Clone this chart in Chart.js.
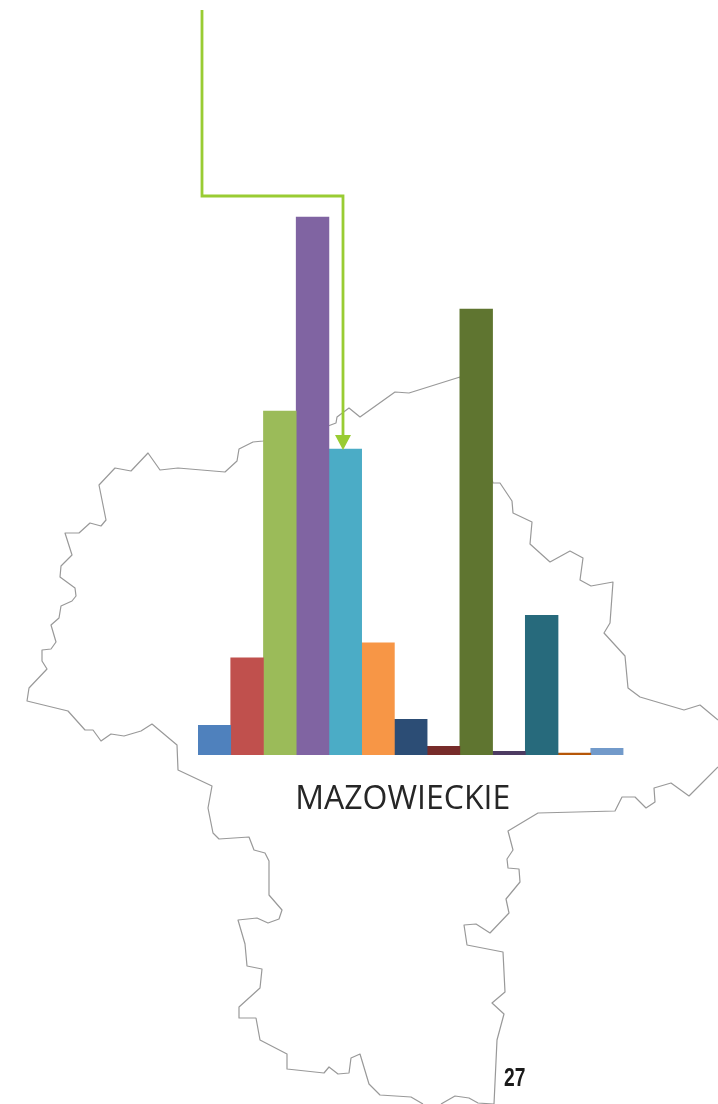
<!DOCTYPE html>
<html><head><meta charset="utf-8">
<script src="https://cdn.jsdelivr.net/npm/chart.js@4"></script>
<style>
html,body{margin:0;padding:0;background:#fff;width:718px;height:1104px;overflow:hidden}
#wrap{position:relative;width:718px;height:1104px}
#c{position:absolute;left:0;top:0}
#page{position:absolute;left:504px;top:1062px;font:bold 26px "Liberation Sans Narrow","Liberation Sans",sans-serif;color:#1a1a1a;transform-origin:0 0;transform:scaleX(.74);line-height:30px}
</style></head><body>
<div id="wrap"><canvas id="c" width="718" height="1104"></canvas><div id="page">27</div></div>
<script>
const categories = ["MAZOWIECKIE"];
const seriesValues = [1.48, 4.85, 17.18, 26.88, 15.28, 5.6, 1.78, 0.43, 22.28, 0.18, 6.98, 0.1, 0.33];
const seriesColors = ["#4F81BD","#C0504D","#9BBB59","#8064A2","#4BACC6","#F79646","#2C4D75","#772C2A","#5F7530","#4D3B62","#276A7C","#B65708","#729ACA"];
const yMax = 37.725;
const outline = [[718,720],[700,705],[684,710],[640,697],[628,688],[625,656],[604,633],[610,623],[613,582],[591,586],[580,580],[583,558],[570,551],[550,562],[530,544],[532,522],[513,513],[512,501],[500,483],[493,483],[460,377],[409,393],[395,392],[360,417],[349,408],[337,417],[336,423],[328,426],[263,441],[253,442],[239,449],[237,461],[225,472],[178,468],[160,470],[148,453],[131,471],[115,468],[99,485],[106,520],[101,526],[90,523],[79,533],[65,533],[72,555],[61,566],[60,577],[75,588],[76,596],[72,601],[61,606],[59,618],[51,625],[56,642],[51,649],[42,650],[42,661],[47,669],[29,688],[27,701],[68,711],[85,730],[93,730],[101,741],[111,734],[124,736],[141,731],[152,724],[177,745],[178,770],[212,786],[208,808],[213,833],[219,839],[249,837],[254,850],[265,853],[269,861],[269,895],[282,910],[279,919],[268,923],[257,918],[238,920],[245,944],[247,966],[262,969],[260,988],[239,1007],[239,1018],[256,1018],[260,1040],[287,1054],[287,1069],[324,1073],[329,1067],[338,1074],[349,1073],[351,1058],[360,1054],[369,1084],[380,1095],[411,1097],[423,1104]];
const outline2 = [[441,1104],[455,1096],[469,1098],[478,1103],[494,1104],[497,1040],[504,1014],[492,1003],[505,992],[503,952],[467,945],[464,925],[476,924],[490,933],[509,913],[506,899],[520,882],[519,869],[508,868],[507,859],[513,850],[508,831],[538,813],[615,811],[622,797],[635,797],[646,808],[655,802],[654,788],[671,783],[689,796],[718,767]];
const arrowLine = [[202,10],[202,196],[343,196],[343,437]];
const arrowHead = [[335,435],[351,435],[343,450]];

function poly(ctx, pts){ ctx.beginPath(); pts.forEach((p,i)=> i?ctx.lineTo(p[0],p[1]):ctx.moveTo(p[0],p[1])); }
const mapPlugin = { id:'map',
  beforeDatasetsDraw(chart){
    const ctx = chart.ctx; ctx.save();
    ctx.strokeStyle='#999999'; ctx.lineWidth=1.2; ctx.lineJoin='round';
    poly(ctx,outline); ctx.stroke();
    poly(ctx,outline2); ctx.stroke();
    ctx.restore();
  },
  afterDatasetsDraw(chart){
    const ctx = chart.ctx; ctx.save();
    ctx.strokeStyle='#99CC33'; ctx.fillStyle='#99CC33'; ctx.lineWidth=2.8; ctx.lineJoin='miter';
    poly(ctx,arrowLine); ctx.stroke();
    poly(ctx,arrowHead); ctx.closePath(); ctx.fill();
    ctx.restore();
  }
};
new Chart(document.getElementById('c'),{
  type:'bar',
  data:{labels:categories,datasets:seriesValues.map((v,i)=>({label:'Seria '+(i+1),data:[v],backgroundColor:seriesColors[i],borderWidth:0}))},
  plugins:[mapPlugin],
  options:{
    responsive:false,animation:false,
    devicePixelRatio:1,
    layout:{padding:{left:198,right:94.5,top:0,bottom:289}},
    datasets:{bar:{barPercentage:1,categoryPercentage:1}},
    plugins:{legend:{display:false},title:{display:false},tooltip:{enabled:false}},
    scales:{
      x:{grid:{display:false,drawTicks:false},border:{display:false},
         afterFit(s){s.height=60;},
         ticks:{color:'#262626',padding:26,labelOffset:-8,font:{family:'"Open Sans"',size:32}}},
      y:{display:false,min:0,max:yMax}
    }
  }
});
</script>
</body></html>
